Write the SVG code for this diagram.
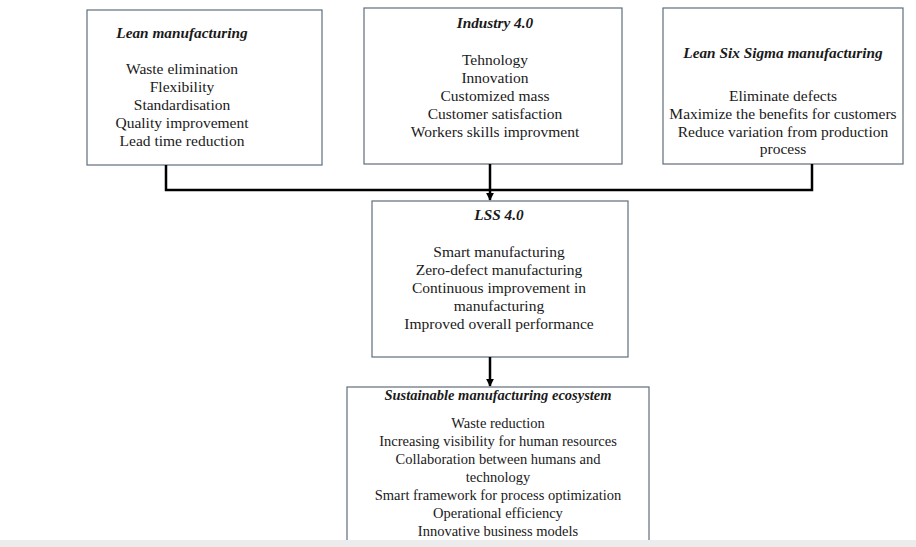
<svg xmlns="http://www.w3.org/2000/svg" width="916" height="547" viewBox="0 0 916 547">
<defs>
<style>
.box{fill:#ffffff;stroke:#5f6d7c;stroke-width:1.2}
.t{font-family:"Liberation Serif","Times New Roman",serif;font-size:15.5px;fill:#1a1a1a;text-anchor:middle}
.h{font-style:italic;font-weight:bold;font-size:15.3px}
.s{font-size:14.5px}
.c{stroke:#000;stroke-width:2.5;fill:none}
</style>
<marker id="ah" viewBox="0 0 10 10" refX="9" refY="5" markerWidth="3.2" markerHeight="3.6" orient="auto" markerUnits="strokeWidth">
<path d="M0,0 L10,5 L0,10 Z" fill="#000"/>
</marker>
</defs>
<rect width="916" height="547" fill="#ffffff"/>
<g id="lean">
<rect class="box" x="87" y="10" width="235" height="155"/>
<text class="t h" x="182" y="38">Lean manufacturing</text>
<text class="t" x="182" y="74">Waste elimination</text>
<text class="t" x="182" y="92">Flexibility</text>
<text class="t" x="182" y="110">Standardisation</text>
<text class="t" x="182" y="128">Quality improvement</text>
<text class="t" x="182" y="146">Lead time reduction</text>
</g>
<g id="industry">
<rect class="box" x="364" y="8" width="258" height="156"/>
<text class="t h" x="495" y="28">Industry 4.0</text>
<text class="t" x="495" y="65">Tehnology</text>
<text class="t" x="495" y="83">Innovation</text>
<text class="t" x="495" y="101">Customized mass</text>
<text class="t" x="495" y="119">Customer satisfaction</text>
<text class="t" x="495" y="137">Workers skills improvment</text>
</g>
<g id="lss">
<rect class="box" x="663" y="8" width="240" height="156"/>
<text class="t h" x="783" y="58">Lean Six Sigma manufacturing</text>
<text class="t" x="783" y="101">Eliminate defects</text>
<text class="t" x="783" y="119">Maximize the benefits for customers</text>
<text class="t" x="783" y="137">Reduce variation from production</text>
<text class="t" x="783" y="154">process</text>
</g>
<g id="lss40">
<rect class="box" x="372" y="201" width="256" height="156"/>
<text class="t h" x="499" y="220">LSS 4.0</text>
<text class="t" x="499" y="257">Smart manufacturing</text>
<text class="t" x="499" y="275">Zero-defect manufacturing</text>
<text class="t" x="499" y="293">Continuous improvement in</text>
<text class="t" x="499" y="311">manufacturing</text>
<text class="t" x="499" y="329">Improved overall performance</text>
</g>
<g id="sustainable">
<rect class="box" x="347" y="387" width="302" height="170"/>
<text class="t h" x="498" y="400" style="font-size:14.5px">Sustainable manufacturing ecosystem</text>
<text class="t s" x="498" y="428">Waste reduction</text>
<text class="t s" x="498" y="446">Increasing visibility for human resources</text>
<text class="t s" x="498" y="464">Collaboration between humans and</text>
<text class="t s" x="498" y="482">technology</text>
<text class="t s" x="498" y="500">Smart framework for process optimization</text>
<text class="t s" x="498" y="518">Operational efficiency</text>
<text class="t s" x="498" y="536">Innovative business models</text>
</g>
<g id="connectors">
<path class="c" d="M166,165 V190 H812 V164"/>
<path class="c" d="M490,164 V200" marker-end="url(#ah)"/>
<path class="c" d="M490,357 V386" marker-end="url(#ah)"/>
</g>
<rect x="0" y="540" width="916" height="7" fill="#ececec"/>
</svg>
